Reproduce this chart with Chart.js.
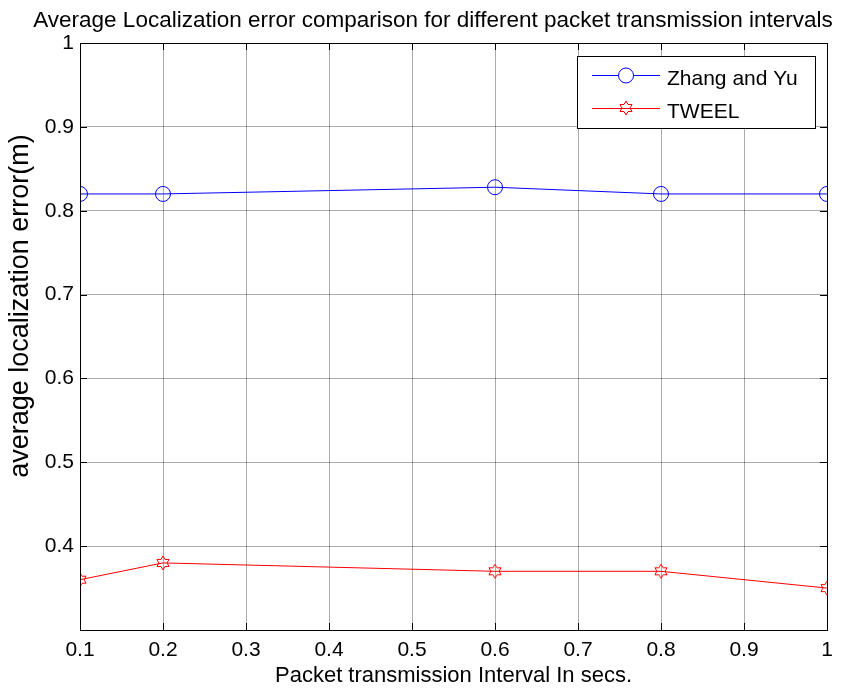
<!DOCTYPE html>
<html>
<head>
<meta charset="utf-8">
<script src="https://cdn.jsdelivr.net/npm/chart.js@4.4.1/dist/chart.umd.min.js"></script>
<style>
  body { margin: 0; background: #fff; }
  canvas { display: block; }
</style>
</head>
<body>
<canvas id="chart" width="843" height="691"></canvas>
<script>
// data
const intervals = [0.1, 0.2, 0.6, 0.8, 1.0];
const zhangYu = [0.82, 0.82, 0.828, 0.82, 0.82];
const tweel = [0.36, 0.38, 0.37, 0.37, 0.35];
const seriesNames = ['Zhang and Yu', 'TWEEL'];
const titleText = 'Average Localization error comparison for different packet transmission intervals';
const xLabel = 'Packet transmission Interval In secs.';
const yLabel = 'average localization error(m)';

const FONT = '"Liberation Sans", Arial, sans-serif';

// hexagram marker (MATLAB 'h')
function makeHexagram(color) {
  const c = document.createElement('canvas');
  c.width = 18; c.height = 18;
  const g = c.getContext('2d');
  const R = 7, r = R / Math.sqrt(3);
  g.beginPath();
  for (let i = 0; i < 12; i++) {
    const a = -Math.PI / 2 + i * Math.PI / 6;
    const rad = i % 2 === 0 ? R : r;
    const x = 9 + rad * Math.cos(a), y = 9 + rad * Math.sin(a);
    if (i === 0) g.moveTo(x, y); else g.lineTo(x, y);
  }
  g.closePath();
  g.strokeStyle = color;
  g.lineWidth = 1;
  g.stroke();
  return c;
}
const starImg = makeHexagram('#ff0000');

const fmt = v => String(Math.round(v * 10) / 10);

// black box + inward ticks, like matlab axes
const framePlugin = {
  id: 'frame',
  afterDatasetsDraw(chart) {
    const { ctx, chartArea: a, scales } = chart;
    ctx.save();
    ctx.strokeStyle = '#000';
    ctx.lineWidth = 1;
    ctx.beginPath();
    scales.x.ticks.forEach(t => {
      const px = Math.round(scales.x.getPixelForValue(t.value)) + 0.5;
      ctx.moveTo(px, a.bottom); ctx.lineTo(px, a.bottom - 7);
      ctx.moveTo(px, a.top); ctx.lineTo(px, a.top + 7);
    });
    scales.y.ticks.forEach(t => {
      const py = Math.round(scales.y.getPixelForValue(t.value)) + 0.5;
      ctx.moveTo(a.left, py); ctx.lineTo(a.left + 7, py);
      ctx.moveTo(a.right, py); ctx.lineTo(a.right - 7, py);
    });
    ctx.stroke();
    ctx.strokeRect(Math.round(a.left) + 0.5, Math.round(a.top) + 0.5,
      Math.round(a.right - a.left), Math.round(a.bottom - a.top));
    ctx.restore();
  }
};

// title and y label (title sits right of centre, y label a bit above axis centre)
const textPlugin = {
  id: 'texts',
  afterDraw(chart) {
    const ctx = chart.ctx;
    ctx.save();
    ctx.fillStyle = '#000';
    ctx.textAlign = 'center';
    ctx.textBaseline = 'alphabetic';
    ctx.font = '22.5px ' + FONT;
    ctx.fillText(titleText, 433, 27);
    ctx.translate(28, 306);
    ctx.rotate(-Math.PI / 2);
    ctx.font = '27px ' + FONT;
    ctx.fillText(yLabel, 0, 0);
    ctx.restore();
  }
};

// legend box with line + marker
const legendPlugin = {
  id: 'matlegend',
  afterDraw(chart) {
    const ctx = chart.ctx;
    ctx.save();
    ctx.fillStyle = '#fff';
    ctx.fillRect(577, 56, 238, 72);
    ctx.strokeStyle = '#000';
    ctx.lineWidth = 1;
    ctx.strokeRect(577.5, 56.5, 238, 72);
    ctx.font = '21px ' + FONT;
    ctx.textBaseline = 'alphabetic';
    chart.data.datasets.forEach((ds, i) => {
      const y = i === 0 ? 75.5 : 108.5;
      ctx.strokeStyle = ds.borderColor;
      ctx.beginPath();
      ctx.moveTo(592, y); ctx.lineTo(660, y);
      ctx.stroke();
      if (ds.pointStyle === 'circle') {
        ctx.fillStyle = '#fff';
        ctx.beginPath();
        ctx.arc(626, y, ds.pointRadius, 0, Math.PI * 2);
        ctx.fill();
        ctx.stroke();
      } else {
        ctx.drawImage(ds.pointStyle, 617, y - 9.5);
      }
      ctx.fillStyle = '#000';
      ctx.fillText(ds.label, 667, i === 0 ? 85 : 118);
    });
    ctx.restore();
  }
};

const ctx = document.getElementById('chart').getContext('2d');
const myChart = new Chart(ctx, {
  type: 'line',
  data: {
    datasets: [
      {
        label: seriesNames[0],
        data: intervals.map((x, i) => ({ x: x, y: zhangYu[i] })),
        borderColor: '#0000ff',
        backgroundColor: 'rgba(255,255,255,0)',
        borderWidth: 1,
        pointStyle: 'circle',
        pointRadius: 7.5,
        pointBorderWidth: 1,
        pointBorderColor: '#0000ff',
        pointBackgroundColor: 'rgba(255,255,255,0)',
        tension: 0
      },
      {
        label: seriesNames[1],
        data: intervals.map((x, i) => ({ x: x, y: tweel[i] })),
        borderColor: '#ff0000',
        backgroundColor: 'rgba(255,255,255,0)',
        borderWidth: 1,
        pointStyle: starImg,
        pointRadius: 7,
        tension: 0
      }
    ]
  },
  options: {
    responsive: false,
    animation: false,
    layout: { padding: { top: 43, right: 16 } },
    plugins: {
      legend: { display: false },
      tooltip: { enabled: false },
      title: { display: false }
    },
    scales: {
      x: {
        type: 'linear',
        min: 0.1,
        max: 1,
        afterFit: s => { s.height = 61; },
        ticks: {
          stepSize: 0.1,
          color: '#000',
          padding: 8,
          maxRotation: 0,
          font: { family: FONT, size: 21 },
          callback: v => fmt(v)
        },
        grid: { color: 'rgba(0,0,0,0.33)', lineWidth: 1, drawTicks: false },
        border: { display: false },
        title: {
          display: true,
          text: xLabel,
          color: '#000',
          font: { family: FONT, size: 22 },
          padding: { top: 0, bottom: 2 }
        }
      },
      y: {
        type: 'linear',
        min: 0.3,
        max: 1,
        afterFit: s => { s.width = 80; },
        ticks: {
          stepSize: 0.1,
          color: '#000',
          padding: 6,
          font: { family: FONT, size: 21 },
          callback: v => (v < 0.35 ? '' : fmt(v))
        },
        grid: { color: 'rgba(0,0,0,0.33)', lineWidth: 1, drawTicks: false },
        border: { display: false }
      }
    }
  },
  plugins: [framePlugin, textPlugin, legendPlugin]
});
</script>
</body>
</html>
